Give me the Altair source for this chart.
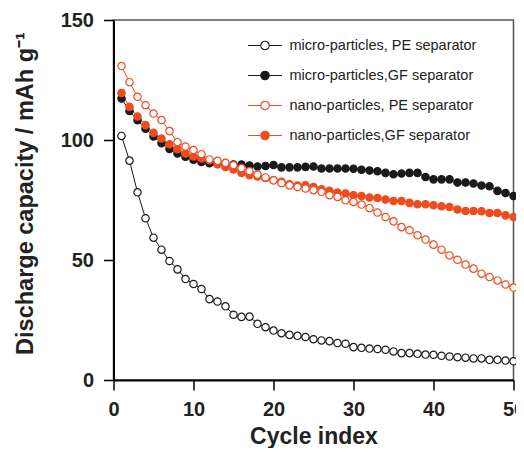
import altair as alt
import pandas as pd

cycles = list(range(1, 51))

series_names = [
    "micro-particles, PE separator",
    "micro-particles,GF separator",
    "nano-particles, PE separator",
    "nano-particles,GF separator",
]

micro_pe = [101.7, 91.4, 78.2, 67.4, 59.3, 54.3, 49.6, 46.1, 42.1, 40.0,
            37.9, 33.7, 32.7, 30.7, 27.2, 26.3, 26.4, 23.4, 22.0, 20.6,
            19.5, 18.8, 18.4, 17.9, 17.0, 16.5, 16.2, 15.4, 15.1, 13.7,
            13.4, 13.1, 12.9, 12.6, 11.9, 11.2, 11.2, 10.9, 10.6, 10.5,
            10.1, 9.8, 9.5, 9.3, 9.0, 9.0, 8.4, 8.4, 8.1, 7.8]

micro_gf = [117.3, 112.1, 108.2, 104.7, 101.5, 98.7, 96.3, 94.4, 93.0, 91.8,
            90.8, 90.3, 90.0, 89.9, 89.8, 89.8, 89.4, 89.0, 89.2, 89.6,
            88.6, 88.6, 88.6, 88.8, 89.0, 88.1, 88.1, 88.1, 88.1, 88.0,
            87.6, 87.3, 87.0, 86.3, 85.7, 86.0, 86.3, 86.3, 84.6, 83.6,
            83.6, 83.6, 82.3, 82.3, 81.9, 81.0, 80.7, 78.8, 77.9, 76.7]

nano_pe = [130.8, 124.1, 118.0, 114.5, 111.0, 108.3, 103.7, 99.1, 97.3, 95.8,
           94.1, 91.9, 91.3, 90.5, 89.5, 88.3, 87.0, 85.6, 84.4, 83.2,
           82.1, 81.1, 80.4, 79.8, 79.1, 78.4, 77.0, 76.3, 74.9, 74.2,
           73.1, 71.6, 69.8, 67.9, 66.1, 63.7, 62.4, 60.3, 58.5, 56.4,
           54.3, 51.9, 50.1, 48.1, 46.4, 44.3, 42.9, 41.5, 39.8, 38.5]

nano_gf = [119.6, 113.8, 109.8, 106.2, 103.0, 100.6, 98.2, 96.2, 94.4, 93.1,
           92.3, 91.6, 89.9, 88.8, 87.7, 86.3, 85.3, 84.8, 84.2, 83.2,
           82.6, 81.6, 81.0, 81.1, 80.4, 79.5, 78.8, 78.1, 77.7, 77.0,
           76.7, 76.0, 75.8, 75.2, 74.6, 74.6, 73.8, 73.2, 73.2, 72.8,
           72.4, 72.1, 71.0, 70.4, 70.4, 70.3, 69.6, 69.6, 68.6, 67.9]

x_ticks = [0, 10, 20, 30, 40, 50]
y_ticks = [0, 50, 100, 150]

BLACK = "#1a1a1a"
ORANGE = "#ef4b1f"
stroke_range = [BLACK, BLACK, ORANGE, ORANGE]
fill_range = ["white", BLACK, "white", ORANGE]

# drawing order: micro PE, micro GF, nano GF, nano PE
draw_order = [(series_names[0], micro_pe), (series_names[1], micro_gf),
              (series_names[3], nano_gf), (series_names[2], nano_pe)]
rows = []
for k, (name, vals) in enumerate(draw_order):
    for c, v in zip(cycles, vals):
        rows.append({"cycle": c, "capacity": v, "series": name, "ord": k})
df = pd.DataFrame(rows)

FONT = "Liberation Sans"
sym_path = "M-2,0L-0.5,0M0.5,0L2,0M0.5,0A0.5,0.5,0,1,1,-0.5,0A0.5,0.5,0,1,1,0.5,0Z"

legend = alt.Legend(
    title=None, orient="none", legendX=142, legendY=16, padding=0,
    symbolType=sym_path, symbolSize=289, symbolStrokeWidth=1.1,
    labelFont=FONT, labelFontSize=14.5, labelColor="#222222", labelOffset=15,
    rowPadding=14, labelLimit=300,
)

x_enc = alt.X("cycle:Q", scale=alt.Scale(domain=[0, 50], nice=False),
              axis=alt.Axis(values=x_ticks, title="Cycle index", titleFontSize=23))
y_enc = alt.Y("capacity:Q", scale=alt.Scale(domain=[0, 150], nice=False),
              axis=alt.Axis(values=y_ticks, title="Discharge capacity / mAh g\u207b\u00b9",
                            titleX=-76, titleY=173))
stroke_enc = alt.Stroke("series:N", scale=alt.Scale(domain=series_names, range=stroke_range),
                        legend=legend)
fill_enc = alt.Fill("series:N", scale=alt.Scale(domain=series_names, range=fill_range),
                    legend=legend)

lines = alt.Chart(df).mark_line(strokeWidth=1).encode(
    x=x_enc, y=y_enc, stroke=stroke_enc, detail="series:N", order="cycle:Q"
)
points = alt.Chart(df).mark_point(shape="circle", size=54, strokeWidth=1.2, opacity=1,
                                  filled=False).encode(
    x=x_enc, y=y_enc, stroke=stroke_enc, fill=fill_enc
)

chart = alt.layer(lines, points).properties(
    width=400, height=360,
    autosize=alt.AutoSizeParams(type="none"),
    padding={"left": 105.5, "top": 12, "right": 2.5, "bottom": 68},
).configure_view(
    stroke="#555555", strokeWidth=1.5
).configure_axis(
    grid=False, domainColor="black", domainWidth=2,
    tickColor="black", tickWidth=1.5, tickSize=10,
    labelFont=FONT, labelFontSize=20, labelFontWeight="bold", labelColor="#222222",
    titleFont=FONT, titleFontSize=23.5, titleFontWeight="bold", titleColor="#222222",
).configure_axisX(
    labelPadding=9, titlePadding=6, labelFlush=False
).configure_axisY(
    labelPadding=10, labelFlush=False
)

chart.save("out.html", embed_options={"renderer": "svg", "actions": False})
